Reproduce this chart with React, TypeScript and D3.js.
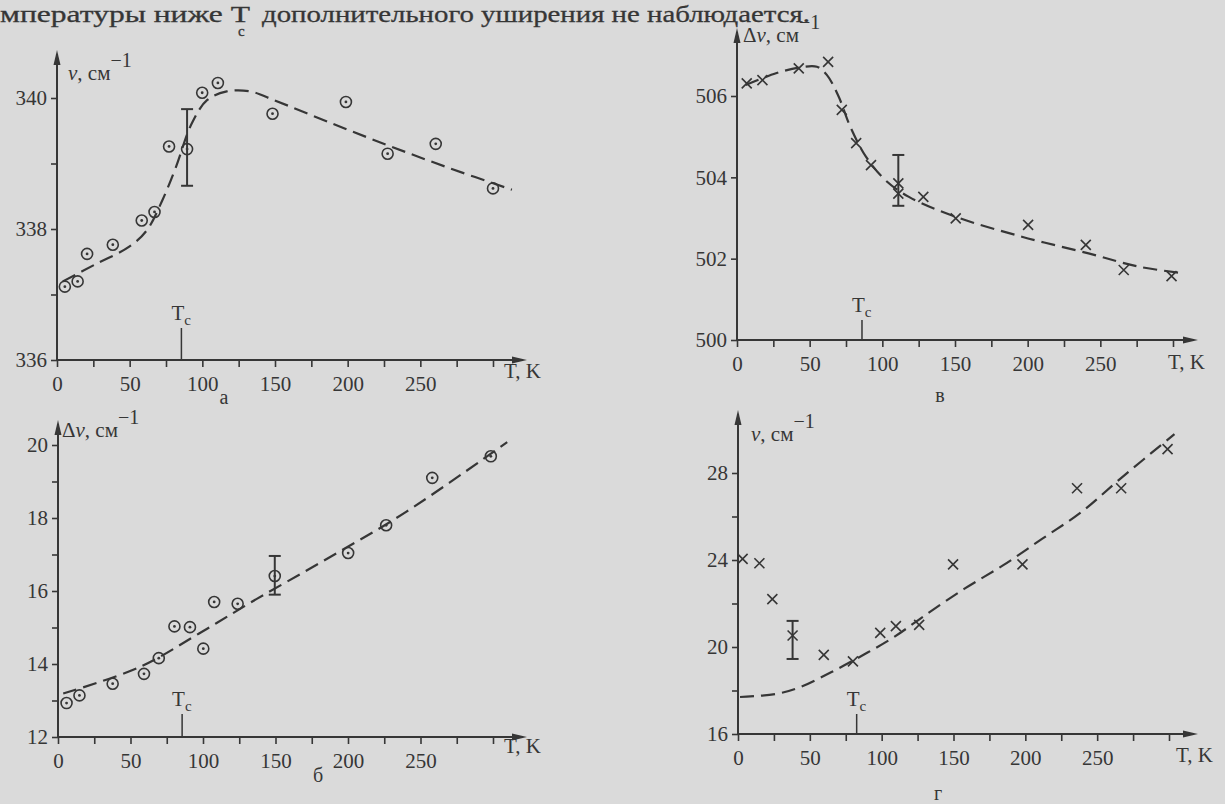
import React, { useEffect, useRef } from "react";
import * as d3 from "d3";

const INK = "#363636";
const PAPER = "#dadada";
const FONT = "'Liberation Serif', 'DejaVu Serif', serif";

// temperature axis, same for all four panels
const tTicks = [0, 25, 50, 75, 100, 125, 150, 175, 200, 225, 250, 275, 300];
const tLabels = [0, 50, 100, 150, 200, 250];

// а : ν, см-1 (circles)
const aTicks = [336, 337, 338, 339, 340];
const aLabels = [336, 338, 340];
const aPoints = [
  [5.4, 337.12], [14.2, 337.2], [20.7, 337.62], [38.4, 337.76], [58.3, 338.13],
  [67.1, 338.26], [77.1, 339.26], [89.5, 339.22], [99.9, 340.08], [110.7, 340.23],
  [148.3, 339.76], [198.8, 339.94], [227.5, 339.15], [260.6, 339.3], [300, 338.62],
];
const aCurve = [
  [4, 337.2], [25.5, 337.45], [49.7, 337.73], [61.8, 337.98], [72.5, 338.44],
  [81.9, 338.95], [92.7, 339.61], [103.4, 339.97], [116.8, 340.1], [133, 340.1],
  [149, 339.97], [189.4, 339.61], [229.7, 339.26], [270, 338.93], [313, 338.6],
];
const aError = [89.5, 338.66, 339.83];
const aTc = 85.6;

// б : Δν, см-1 (circles)
const bTicks = [12, 13, 14, 15, 16, 17, 18, 19, 20];
const bLabels = [12, 14, 16, 18, 20];
const bPoints = [
  [5.9, 12.93], [14.8, 13.14], [37.7, 13.46], [59.3, 13.73], [69.5, 14.16],
  [80.3, 15.03], [91, 15.01], [100.2, 14.42], [107.7, 15.7], [123.9, 15.65],
  [149.5, 16.41], [200.1, 17.04], [226.3, 17.8], [258.1, 19.1], [298.5, 19.69],
];
const bCurve = [
  [3.6, 13.19], [56.6, 13.92], [97, 14.83], [137.4, 15.79], [185.9, 16.89],
  [239.8, 18.16], [309.8, 20.08],
];
const bError = [149.5, 15.9, 16.96];
const bTc = 85.6;

// в : Δν, см-1 (crosses)
const vTicks = [500, 502, 504, 506];
const vLabels = [500, 502, 504, 506];
const vPoints = [
  [6.7, 506.31], [17.5, 506.39], [42.5, 506.68], [62.7, 506.84], [72.1, 505.66],
  [82, 504.84], [92.2, 504.3], [111, 503.85], [111, 503.6], [128.2, 503.52],
  [150.5, 502.99], [200.3, 502.83], [240, 502.34], [266.1, 501.72], [299, 501.57],
];
const vCurve = [
  [5.9, 506.27], [26.8, 506.56], [43, 506.7], [55, 506.72], [61.8, 506.52],
  [70, 505.98], [78, 505.24], [88.7, 504.51], [102.1, 503.93], [118.3, 503.52],
  [150.5, 503.03], [196, 502.54], [241.9, 502.13], [276.9, 501.8], [307.8, 501.64],
];
const vError = [111, 503.3, 504.55];
const vTc = 86;

// г : ν, см-1 (crosses)
const gTicks = [16, 18, 20, 22, 24, 26, 28];
const gLabels = [16, 20, 24, 28];
const gPoints = [
  [3.2, 24.05], [14.9, 23.85], [23.9, 22.2], [38, 20.53], [59.7, 19.64],
  [80, 19.34], [99, 20.65], [109.9, 20.96], [126.1, 21.02], [149.7, 23.8],
  [198, 23.8], [236, 27.3], [266.7, 27.3], [299, 29.1],
];
const gCurve = [
  [1.4, 17.7], [27, 17.85], [43.4, 18.16], [65.1, 18.85], [86.8, 19.62],
  [108.4, 20.45], [130, 21.45], [157.4, 22.67], [184.4, 23.75], [211.6, 24.97],
  [238.7, 26.19], [265.8, 27.72], [303.8, 29.79],
];
const gError = [38, 19.45, 21.2];
const gTc = 82.6;

const panels = [
  {
    letter: "а", yName: "ν", pre: "", marker: "circle",
    ticks: aTicks, labels: aLabels, points: aPoints, curve: aCurve, err: aError, tc: aTc,
    x0: 57, x300: 493, y0: 360, yTop: 98, arrowTop: 50, arrowRight: 527,
    nameX: 68, nameY: 80, letterX: 224, letterY: 404, tkX: 504, tkY: 378, tcTop: 328,
  },
  {
    letter: "б", yName: "ν", pre: "Δ", marker: "circle",
    ticks: bTicks, labels: bLabels, points: bPoints, curve: bCurve, err: bError, tc: bTc,
    x0: 58, x300: 493, y0: 737, yTop: 445, arrowTop: 420, arrowRight: 527,
    nameX: 62, nameY: 437, letterX: 318, letterY: 782, tkX: 504, tkY: 753, tcTop: 714,
  },
  {
    letter: "в", yName: "ν", pre: "Δ", marker: "cross",
    ticks: vTicks, labels: vLabels, points: vPoints, curve: vCurve, err: vError, tc: vTc,
    x0: 737, x300: 1173, y0: 340, yTop: 96, arrowTop: 28, arrowRight: 1198,
    nameX: 743, nameY: 42, letterX: 940, letterY: 402, tkX: 1168, tkY: 369, tcTop: 320,
  },
  {
    letter: "г", yName: "ν", pre: "", marker: "cross",
    ticks: gTicks, labels: gLabels, points: gPoints, curve: gCurve, err: gError, tc: gTc,
    x0: 738, x300: 1169, y0: 734, yTop: 473, arrowTop: 410, arrowRight: 1198,
    nameX: 751, nameY: 441, letterX: 938, letterY: 800, tkX: 1176, tkY: 762, tcTop: 714,
  },
];

export default function App() {
  const ref = useRef<SVGSVGElement>(null);

  useEffect(() => {
    const svg = d3.select(ref.current);
    svg.selectAll("*").remove();

    svg.append("rect").attr("width", 1225).attr("height", 804).attr("fill", PAPER);

    // running text above the figure
    const head = svg.append("g").attr("fill", INK).attr("stroke", INK).attr("stroke-width", 0.3)
      .style("font-family", FONT).style("font-size", "24px");
    head.append("text").attr("x", 0).attr("y", 22).attr("textLength", 250)
      .attr("lengthAdjust", "spacingAndGlyphs").text("мпературы ниже T");
    head.append("text").attr("x", 238).attr("y", 36).style("font-size", "15px").text("c");
    head.append("text").attr("x", 262).attr("y", 22).attr("textLength", 548)
      .attr("lengthAdjust", "spacingAndGlyphs").text("дополнительного уширения не наблюдается.");

    panels.forEach((p) => {
      const dom = [p.ticks[0], p.ticks[p.ticks.length - 1]];
      const x = d3.scaleLinear().domain([0, 300]).range([p.x0, p.x300]);
      const y = d3.scaleLinear().domain(dom).range([p.y0, p.yTop]);
      const g = svg.append("g").style("font-family", FONT);

      // y axis
      const ya = g.append("g").attr("transform", `translate(${p.x0},0)`)
        .call(d3.axisLeft(y).tickValues(p.ticks).tickSize(6).tickPadding(4)
          .tickFormat((d) => (p.labels.includes(+d) ? String(d) : "")));
      ya.select(".domain").remove();
      ya.selectAll("line").attr("stroke", INK).attr("stroke-width", 1.6);
      ya.selectAll("text").attr("fill", INK).style("font-size", "21px").style("font-family", FONT);

      // x axis
      const xa = g.append("g").attr("transform", `translate(0,${p.y0})`)
        .call(d3.axisBottom(x).tickValues(tTicks).tickSize(7).tickPadding(9)
          .tickFormat((d) => (tLabels.includes(+d) ? String(d) : "")));
      xa.select(".domain").remove();
      xa.selectAll("line").attr("stroke", INK).attr("stroke-width", 1.6);
      xa.selectAll("text").attr("fill", INK).style("font-size", "21px").style("font-family", FONT);

      // axis lines with arrows
      g.append("line").attr("x1", p.x0).attr("y1", p.y0).attr("x2", p.x0).attr("y2", p.arrowTop + 4)
        .attr("stroke", INK).attr("stroke-width", 2);
      g.append("line").attr("x1", p.x0).attr("y1", p.y0).attr("x2", p.arrowRight - 4).attr("y2", p.y0)
        .attr("stroke", INK).attr("stroke-width", 2);
      g.append("path").attr("fill", INK)
        .attr("d", `M${p.x0 - 3.5},${p.arrowTop + 15} L${p.x0},${p.arrowTop} L${p.x0 + 3.5},${p.arrowTop + 15} Z`);
      g.append("path").attr("fill", INK)
        .attr("d", `M${p.arrowRight - 15},${p.y0 - 3.5} L${p.arrowRight},${p.y0} L${p.arrowRight - 15},${p.y0 + 3.5} Z`);

      // axis names
      const nm = g.append("text").attr("x", p.nameX).attr("y", p.nameY).attr("fill", INK).style("font-size", "21px");
      nm.append("tspan").text(p.pre);
      nm.append("tspan").style("font-style", "italic").text(p.yName);
      nm.append("tspan").text(", см");
      nm.append("tspan").attr("dy", -13).style("font-size", "20px").text("−1");

      g.append("text").attr("x", p.tkX).attr("y", p.tkY).attr("fill", INK).style("font-size", "21px").text("T, K");
      g.append("text").attr("x", p.letterX).attr("y", p.letterY).attr("text-anchor", "middle")
        .attr("fill", INK).style("font-size", "20px").text(p.letter);

      // Tc marker
      g.append("line").attr("x1", x(p.tc)).attr("x2", x(p.tc)).attr("y1", p.tcTop).attr("y2", p.y0)
        .attr("stroke", INK).attr("stroke-width", 1.5);
      const tcl = g.append("text").attr("x", x(p.tc) - 10).attr("y", p.tcTop - 8).attr("fill", INK).style("font-size", "21px");
      tcl.append("tspan").text("T");
      tcl.append("tspan").attr("dy", 5).style("font-size", "15px").text("c");

      // fitted dashed curve
      const line = d3.line<number[]>().x((d) => x(d[0])).y((d) => y(d[1])).curve(d3.curveCatmullRom.alpha(0.5));
      g.append("path").datum(p.curve).attr("d", line).attr("fill", "none").attr("stroke", INK)
        .attr("stroke-width", 2.2).attr("stroke-dasharray", "14 7");

      // error bar
      const [et, elo, ehi] = p.err;
      const eb = g.append("g").attr("stroke", INK).attr("stroke-width", 2);
      eb.append("line").attr("x1", x(et)).attr("x2", x(et)).attr("y1", y(elo)).attr("y2", y(ehi));
      eb.append("line").attr("x1", x(et) - 6).attr("x2", x(et) + 6).attr("y1", y(elo)).attr("y2", y(elo));
      eb.append("line").attr("x1", x(et) - 6).attr("x2", x(et) + 6).attr("y1", y(ehi)).attr("y2", y(ehi));

      // data points
      const pts = g.append("g").selectAll("g").data(p.points).join("g")
        .attr("transform", (d) => `translate(${x(d[0])},${y(d[1])})`);
      if (p.marker === "circle") {
        pts.append("circle").attr("r", 5.5).attr("fill", "none").attr("stroke", INK).attr("stroke-width", 1.6);
        pts.append("circle").attr("r", 1.4).attr("fill", INK);
      } else {
        pts.append("path").attr("d", "M-5,-5L5,5M-5,5L5,-5").attr("stroke", INK).attr("stroke-width", 1.6);
      }
    });
  }, []);

  return (
    <div style={{ position: "absolute", left: 0, top: 0 }}>
      <svg ref={ref} width={1225} height={804} style={{ display: "block" }} />
    </div>
  );
}
